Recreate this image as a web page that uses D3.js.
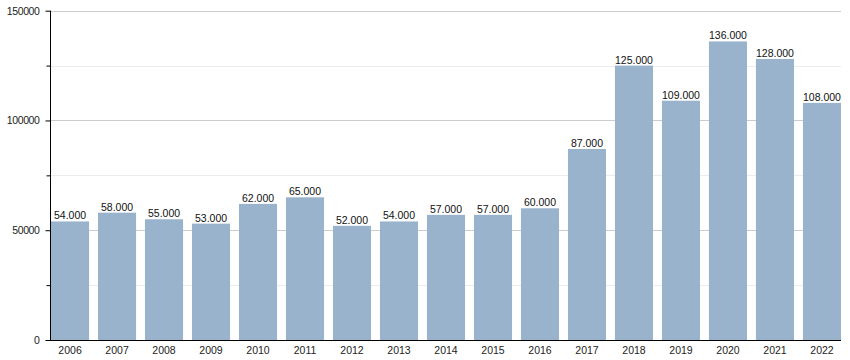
<!DOCTYPE html>
<html><head><meta charset="utf-8">
<script src="https://cdn.jsdelivr.net/npm/d3@7"></script>
<style>body{margin:0;background:#fff;}svg{display:block;font-family:"Liberation Sans",Arial,sans-serif;}</style>
</head><body>
<svg id="c" width="850" height="360"></svg>
<script>
const years = ["2006","2007","2008","2009","2010","2011","2012","2013","2014","2015","2016","2017","2018","2019","2020","2021","2022"];
const values = [54000,58000,55000,53000,62000,65000,52000,54000,57000,57000,60000,87000,125000,109000,136000,128000,108000];
const valueLabels = ["54.000","58.000","55.000","53.000","62.000","65.000","52.000","54.000","57.000","57.000","60.000","87.000","125.000","109.000","136.000","128.000","108.000"];
const majorTicks = [0,50000,100000,150000];
const minorTicks = [25000,75000,125000];

const svg = d3.select("#c");
const pLeft = 50, pRight = 841, pTop = 10.7, pBottom = 340;
const x = d3.scaleBand().domain(years).range([pLeft+1, pRight]).paddingInner(0.19).paddingOuter(0);
const y = d3.scaleLinear().domain([0,150000]).range([pBottom, pTop]);

// grid
svg.append("g").selectAll("line").data(minorTicks).join("line")
  .attr("x1", pLeft).attr("x2", pRight).attr("y1", d=>Math.round(y(d))+0.5).attr("y2", d=>Math.round(y(d))+0.5)
  .attr("stroke", "#ececec");
svg.append("g").selectAll("line").data(majorTicks.filter(d=>d>0)).join("line")
  .attr("x1", pLeft).attr("x2", pRight).attr("y1", d=>Math.round(y(d))+0.5).attr("y2", d=>Math.round(y(d))+0.5)
  .attr("stroke", "#cccccc");

// bars
svg.append("g").selectAll("rect").data(years).join("rect")
  .attr("x", d=>x(d)).attr("width", x.bandwidth())
  .attr("y", (d,i)=>y(values[i])).attr("height", (d,i)=>pBottom - y(values[i]))
  .attr("fill", "#9ab3cc");

// value labels
svg.append("g").selectAll("text").data(years).join("text")
  .attr("x", d=>x(d)+x.bandwidth()/2).attr("y", (d,i)=>y(values[i])-2)
  .attr("text-anchor","middle").attr("font-size","10.5px").attr("fill","#111")
  .text((d,i)=>valueLabels[i]);

// y axis
const yAxis = d3.axisLeft(y).tickValues(majorTicks).tickSize(5).tickFormat(d3.format("d"));
const gy = svg.append("g").attr("transform",`translate(${pLeft+0.5},0)`).call(yAxis);
gy.select(".domain").attr("stroke","#000").attr("d",`M0,${pTop}V${pBottom}`);
gy.selectAll(".tick text").attr("font-size","10.5px").attr("fill","#222").attr("letter-spacing","-0.4").attr("x",-11)
  .attr("font-family","\"Liberation Sans\",Arial,sans-serif");
gy.selectAll(".tick line").attr("stroke","#000");
const yMinor = d3.axisLeft(y).tickValues(minorTicks).tickSize(4).tickFormat("");
const gm = svg.append("g").attr("transform",`translate(${pLeft+0.5},0)`).call(yMinor);
gm.select(".domain").remove();
gm.selectAll(".tick line").attr("stroke","#000");

// x axis
const xAxis = d3.axisBottom(x).tickSize(0).tickPadding(6);
const gx = svg.append("g").attr("transform",`translate(0,${pBottom+0.5})`).call(xAxis);
gx.select(".domain").attr("stroke","#000").attr("d",`M${pLeft},0H${pRight}`);
gx.selectAll(".tick text").attr("font-size","10.5px").attr("fill","#222")
  .attr("font-family","\"Liberation Sans\",Arial,sans-serif");
</script>
</body></html>
